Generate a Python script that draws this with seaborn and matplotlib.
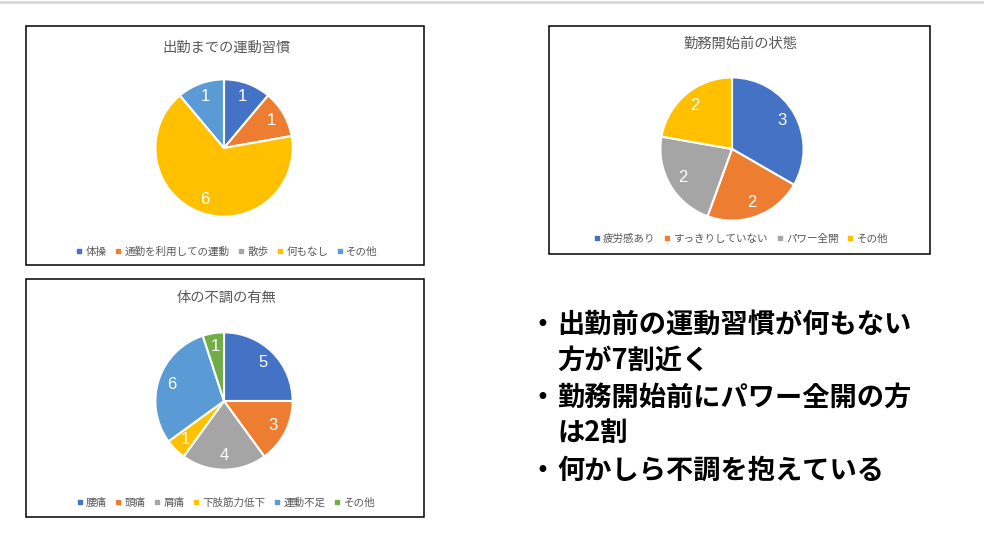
import matplotlib
matplotlib.use("Agg")
import matplotlib.pyplot as plt
from matplotlib.patches import Rectangle
from matplotlib.lines import Line2D
import seaborn as sns

# データ
habit_labels = ["体操", "通勤を利用しての運動", "散歩", "何もなし", "その他"]
habit_values = [1, 1, 0, 6, 1]

state_labels = ["疲労感あり", "すっきりしていない", "パワー全開", "その他"]
state_values = [3, 2, 2, 2]

pain_labels = ["腰痛", "頭痛", "肩痛", "下肢筋力低下", "運動不足", "その他"]
pain_values = [5, 3, 4, 1, 6, 1]

bullet_lines = [
    ("出勤前の運動習慣が何もない", True),
    ("方が7割近く", False),
    ("勤務開始前にパワー全開の方", True),
    ("は2割", False),
    ("何かしら不調を抱えている", True),
]

sns.set_theme(style="white")
plt.rcParams['font.family'] = ['Noto Sans CJK JP', 'DejaVu Sans']

office = sns.color_palette(["#4472C4", "#ED7D31", "#A5A5A5", "#FFC000", "#5B9BD5", "#70AD47"])

W, H = 984, 557
fig = plt.figure(figsize=(W / 100, H / 100), dpi=100)
fig.patch.set_facecolor("white")


def fx(px):
    return px / W


def fy(py):
    return 1 - py / H


# 上部の灰色ライン
fig.add_artist(Line2D([0, 1], [fy(1.5), fy(1.5)], color="#d6d6d6", lw=2, transform=fig.transFigure))


def draw_pie(values, labels, title, box, center, r, title_y, legend_y, legend_x):
    x0, y0, x1, y1 = box
    fig.add_artist(Rectangle((fx(x0), fy(y1)), fx(x1 - x0), (y1 - y0) / H,
                             fill=False, edgecolor="black", lw=1.1, transform=fig.transFigure))
    cx, cy = center
    ax = fig.add_axes([fx(cx - r), fy(cy + r), fx(2 * r), 2 * r / H])
    total = sum(values)

    def fmt(pct):
        v = int(round(pct * total / 100))
        return str(v) if v > 0 else ""

    cols = office[:len(values)]
    wedges, texts, autotexts = ax.pie(values, colors=cols, startangle=90, counterclock=False,
                                      autopct=fmt, pctdistance=0.8,
                                      wedgeprops=dict(edgecolor="white", linewidth=1.5),
                                      textprops=dict(color="white", fontsize=12,
                                                     family=["Liberation Sans"]))
    ax.set_xlim(-1.02, 1.02)
    ax.set_ylim(-1.02, 1.02)
    ax.set_aspect("equal")
    ax.axis("off")

    fig.text(fx((x0 + x1) / 2 + 1), fy(title_y), title, ha="center", va="center",
             fontsize=10.3, color="#595959")

    handles = [Line2D([], [], marker="s", linestyle="", markersize=3.2, color=c) for c in cols]
    fig.legend(handles, labels, loc="center", bbox_to_anchor=(fx(legend_x), fy(legend_y)),
               ncol=len(labels), frameon=False, fontsize=7.6, labelcolor="#595959",
               handlelength=0.5, handletextpad=0.35, columnspacing=0.85, borderpad=0)


draw_pie(habit_values, habit_labels, "出勤までの運動習慣", (26, 26, 424, 265),
         (224, 148), 70, 48, 252, 227)
draw_pie(state_values, state_labels, "勤務開始前の状態", (549, 26, 930, 254),
         (732, 149), 73, 44, 239, 741)
draw_pie(pain_values, pain_labels, "体の不調の有無", (26, 279, 424, 517),
         (224, 401), 70, 298, 503, 226)

# 箇条書き
line_y = [325, 361, 398, 433, 471]
for (txt, has_bullet), y in zip(bullet_lines, line_y):
    if has_bullet:
        fig.text(fx(542), fy(y), "•", ha="center", va="center", fontsize=17,
                 color="black", family=["DejaVu Sans"])
    fig.text(fx(557), fy(y), txt, ha="left", va="center", fontsize=19.6,
             fontweight="bold", color="black")

fig.savefig("out.png", dpi=100, facecolor="white")
